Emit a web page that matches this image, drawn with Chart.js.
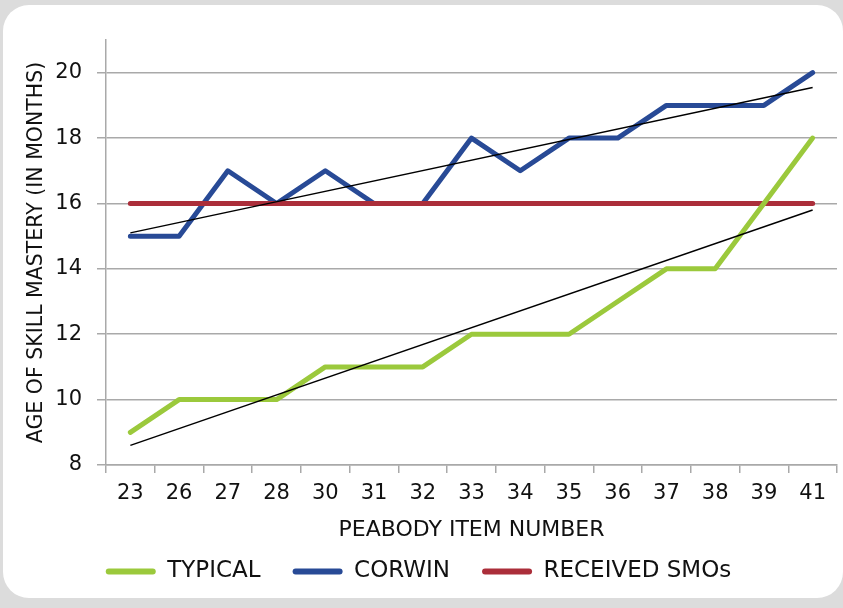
<!DOCTYPE html>
<html>
<head>
<meta charset="utf-8">
<script src="https://cdn.jsdelivr.net/npm/chart.js@4"></script>
<style>
  html, body { margin: 0; padding: 0; }
  body { width: 843px; height: 608px; background: #dcdcdc; position: relative; overflow: hidden; }
  .card { position: absolute; left: 3px; top: 5px; width: 840px; height: 593px; background: #fff; border-radius: 26px; }
  #chart { position: absolute; left: 0; top: 0; }
</style>
</head>
<body>
<div class="card"></div>
<canvas id="chart" width="843" height="608"></canvas>
<script>
// Peabody item numbers along the x axis
const items = ['23', '26', '27', '28', '30', '31', '32', '33', '34', '35', '36', '37', '38', '39', '41'];

// age of skill mastery, in months
const typical = [9, 10, 10, 10, 11, 11, 11, 12, 12, 12, 13, 14, 14, 16, 18];
const corwin = [15, 15, 17, 16, 17, 16, 16, 18, 17, 18, 18, 19, 19, 19, 20];
const receivedSMOs = [16, 16, 16, 16, 16, 16, 16, 16, 16, 16, 16, 16, 16, 16, 16];

// trend lines, read at the first and last item
const typicalTrend = [8.6, 15.8];
const corwinTrend = [15.1, 19.55];

const yTicks = [8, 10, 12, 14, 16, 18, 20];

const GRID = '#a9a9a9';
const FONT = "'DejaVu Sans', sans-serif";

// only the two ends are set, the line is spanned across the gaps
function trendData(ends) {
    return items.map((c, i) => i === 0 ? ends[0] : (i === items.length - 1 ? ends[1] : null));
}

function series(label, data, color, order) {
    return {
        label: label,
        data: data,
        borderColor: color,
        backgroundColor: color,
        borderWidth: 5,
        pointRadius: 0,
        tension: 0,
        borderJoinStyle: 'round',
        borderCapStyle: 'round',
        order: order
    };
}

function trend(data) {
    return {
        label: 'trend',
        data: trendData(data),
        borderColor: '#000',
        borderWidth: 1.5,
        pointRadius: 0,
        spanGaps: true,
        order: 0
    };
}

Chart.defaults.font.family = FONT;
Chart.defaults.color = '#111';

new Chart(document.getElementById('chart').getContext('2d'), {
    type: 'line',
    data: {
        labels: items,
        datasets: [
            series('TYPICAL', typical, '#9bc93c', 1),
            series('CORWIN', corwin, '#284a96', 3),
            series('RECEIVED SMOs', receivedSMOs, '#ab2e3a', 2),
            trend(typicalTrend),
            trend(corwinTrend)
        ]
    },
    options: {
        responsive: false,
        animation: false,
        layout: { padding: { left: 0, right: 6, top: 40, bottom: 15 } },
        scales: {
            x: {
                offset: true,
                grid: { offset: true, drawOnChartArea: false, color: GRID, lineWidth: 1.5, tickLength: 8 },
                border: { color: GRID, width: 1.5 },
                ticks: { padding: 8, font: { size: 21 }, maxRotation: 0 },
                title: { display: true, text: 'PEABODY ITEM NUMBER', font: { size: 22 }, padding: { top: 0, bottom: -15 } },
                afterFit: (scale) => { scale.height = 63; }
            },
            y: {
                min: 8,
                max: 21,
                afterBuildTicks: (scale) => { scale.ticks = yTicks.map(v => ({ value: v })); },
                grid: { color: GRID, lineWidth: 1.5, tickLength: 9 },
                border: { color: GRID, width: 1.5 },
                ticks: { padding: 15, font: { size: 21 } },
                title: { display: true, text: 'AGE OF SKILL MASTERY (IN MONTHS)', font: { size: 20.5 }, padding: { top: 24, bottom: 0 } },
                afterFit: (scale) => { scale.width = 106; }
            }
        },
        plugins: {
            legend: {
                position: 'bottom',
                maxHeight: 81,
                labels: {
                    boxWidth: 50,
                    boxHeight: 6,
                    padding: 32,
                    useBorderRadius: true,
                    borderRadius: 3,
                    font: { size: 23 },
                    filter: (item) => item.datasetIndex < 3,
                    sort: (a, b) => a.datasetIndex - b.datasetIndex,
                    generateLabels: (chart) => {
                        const list = Chart.defaults.plugins.legend.labels.generateLabels(chart);
                        list.forEach(it => { it.fillStyle = it.strokeStyle; it.lineWidth = 0; });
                        return list;
                    }
                }
            },
            tooltip: { enabled: false }
        }
    }
});
</script>
</body>
</html>
